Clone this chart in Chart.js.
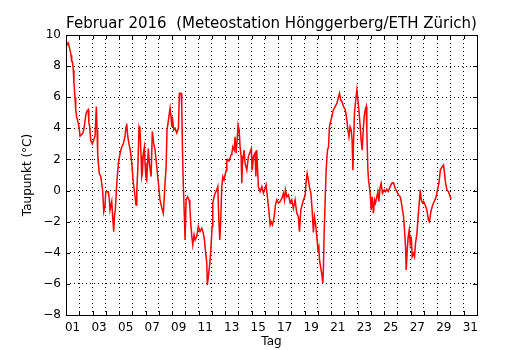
<!DOCTYPE html>
<html>
<head>
<meta charset="utf-8">
<script src="https://cdn.jsdelivr.net/npm/chart.js@4.4.0/dist/chart.umd.min.js"></script>
<style>
body { margin: 0; background: #fff; }
</style>
</head>
<body>
<canvas id="taupunktChart" width="530" height="350"></canvas>
<script>
var titel = 'Februar 2016  (Meteostation H\u00f6nggerberg/ETH Z\u00fcrich)';

// Zeit in Tagen (1.0 = 1. Februar 00:00)
var tage = [
    1.05, 1.10, 1.17, 1.30, 1.38, 1.43, 1.49, 1.55, 1.60, 1.68, 1.73, 1.81, 1.88, 1.98,
    2.06, 2.18, 2.28, 2.38, 2.49, 2.58, 2.68, 2.72, 2.79, 2.86, 2.98,
    3.09, 3.19, 3.29, 3.34, 3.39, 3.44, 3.51, 3.62, 3.69, 3.77, 3.85, 3.94,
    4.00, 4.19, 4.27, 4.32, 4.45, 4.52, 4.60, 4.65, 4.72, 4.80, 4.87, 4.95,
    5.08, 5.20, 5.32, 5.45, 5.53, 5.58, 5.66, 5.75, 5.85, 5.96,
    6.08, 6.21, 6.28, 6.34, 6.41, 6.51, 6.58, 6.66, 6.71, 6.76, 6.83, 6.91, 6.96,
    7.02, 7.09, 7.17, 7.21, 7.29, 7.42, 7.51, 7.62, 7.72, 7.85, 7.97,
    8.09, 8.22, 8.34, 8.40, 8.47, 8.55, 8.62, 8.72, 8.85, 8.92, 8.98,
    9.05, 9.13, 9.23, 9.35, 9.48, 9.55, 9.68, 9.73, 9.79, 9.85, 9.93, 9.98,
    10.06, 10.17, 10.28, 10.34, 10.41, 10.49, 10.56, 10.66, 10.74, 10.86, 10.98,
    11.11, 11.24, 11.36, 11.44, 11.51, 11.62, 11.66, 11.77, 11.87, 11.94,
    12.02, 12.07, 12.17, 12.25, 12.37, 12.45, 12.52, 12.60, 12.68, 12.75, 12.83, 12.92,
    13.00, 13.08, 13.13, 13.20, 13.30, 13.38, 13.45, 13.51, 13.58, 13.68, 13.75, 13.83, 13.91, 13.98,
    14.06, 14.13, 14.21, 14.26, 14.31, 14.43, 14.51, 14.64, 14.76, 14.89, 14.98,
    15.04, 15.14, 15.26, 15.32, 15.38, 15.47, 15.51, 15.64, 15.77, 15.89,
    16.02, 16.09, 16.19, 16.27, 16.34, 16.40, 16.47, 16.57, 16.65, 16.72, 16.80, 16.90,
    17.02, 17.15, 17.28, 17.40, 17.48, 17.55, 17.66, 17.78, 17.91,
    18.03, 18.15, 18.28, 18.41, 18.53, 18.61, 18.71, 18.81, 18.91,
    19.04, 19.11, 19.19, 19.26, 19.36, 19.47, 19.57, 19.66, 19.74, 19.82, 19.92,
    20.00, 20.07, 20.12, 20.22, 20.30, 20.37, 20.42, 20.47, 20.55, 20.62, 20.72, 20.80, 20.87, 20.98,
    21.05, 21.17, 21.30, 21.43, 21.55, 21.63, 21.73, 21.83, 21.93,
    22.06, 22.19, 22.26, 22.34, 22.43, 22.51, 22.58, 22.64, 22.68, 22.76, 22.83, 22.94,
    23.02, 23.09, 23.19, 23.26, 23.34, 23.42, 23.49, 23.57, 23.64, 23.69, 23.77, 23.82, 23.94,
    24.02, 24.09, 24.19, 24.27, 24.34, 24.45, 24.52, 24.60, 24.70, 24.77, 24.87,
    25.00, 25.10, 25.20, 25.30, 25.45, 25.58, 25.70, 25.83, 25.96,
    26.08, 26.21, 26.28, 26.38, 26.46, 26.53, 26.61, 26.66, 26.74, 26.81, 26.89, 26.96,
    27.04, 27.11, 27.21, 27.29, 27.36, 27.47, 27.54, 27.62, 27.72, 27.79, 27.89, 27.97,
    28.09, 28.22, 28.34, 28.42, 28.52, 28.62, 28.72, 28.83, 28.92,
    29.02, 29.13, 29.23, 29.35, 29.48, 29.55, 29.63, 29.73, 29.85, 29.98, 30.06
];

// Taupunkt in Grad C
var taupunkt = [
    9.3, 9.47, 9.5, 9.04, 8.7, 8.3, 8.3, 7.75, 6.9, 6.0, 5.2, 4.7, 4.5, 4.1,
    3.5, 3.6, 3.7, 4.1, 4.85, 5.1, 5.2, 4.4, 4.1, 3.25, 3.0,
    3.25, 3.5, 5.4, 3.9, 2.4, 1.75, 1.1, 0.9, 0.47, -0.07, -1.36, -1.03,
    -0.07, -0.07, -0.6, -1.25, -0.7, -1.68, -2.64, -1.68, -1.25, 0.04, 0.9, 1.75,
    2.4, 2.8, 3.0, 3.46, 4.1, 4.3, 3.46, 3.0, 2.6, 1.75,
    0.47, -0.4, -0.93, 0.04, 1.3, 4.1, 3.9, 2.2, 0.9, 1.1, 2.4, 2.8, 1.8,
    0.9, 0.68, 2.0, 2.7, 1.75, 0.9, 3.8, 3.0, 2.6, 1.5, 0.47,
    -0.6, -1.1, -1.46, -0.6, 0.47, 1.54, 3.9, 4.5, 5.3, 4.75, 4.1,
    4.5, 3.9, 4.0, 3.7, 4.0, 6.25, 6.25, 5.4, 2.4, 0.25, -1.68, -3.17,
    -0.6, -0.4, -0.6, -1.0, -2.1, -2.96, -3.5, -2.85, -3.17, -2.96, -2.3,
    -2.64, -2.42, -2.75, -3.17, -3.8, -4.67, -6.07, -5.3, -4.46, -3.6,
    -2.3, -0.8, -0.4, -0.17, 0.04, 0.25, -1.68, -3.17, -1.68, 0.25, 0.9, 0.68,
    1.0, 1.3, 1.9, 2.0, 1.9, 2.1, 2.3, 2.4, 2.8, 2.6, 3.46, 2.4, 3.25, 4.2,
    3.9, 2.8, 2.2, 0.47, 1.75, 2.6, 1.75, 1.3, 2.2, 2.5, 2.7,
    1.3, 2.2, 2.4, 0.9, 2.6, 1.0, 0.25, -0.07, 0.25, -0.17,
    0.15, 0.36, -0.4, -1.03, -1.68, -2.2, -2.0, -2.2, -1.9, -1.57, -0.93, -0.6,
    -0.8, -0.7, -0.5, -0.17, -0.6, 0.04, -0.4, -0.28, -0.8,
    -0.6, -1.14, -0.6, -1.46, -1.68, -2.64, -1.25, -0.93, -0.6,
    -0.3, 0.57, 1.1, 0.79, 0.25, -0.17, -1.3, -2.7, -1.68, -2.1, -2.96,
    -3.8, -3.6, -4.46, -5.0, -5.42, -5.96, -4.9, -2.75, -0.6, 1.3, 2.6, 2.8, 4.1, 4.5,
    4.75, 5.2, 5.4, 5.6, 6.0, 6.25, 5.8, 5.7, 5.4,
    5.2, 4.5, 3.9, 3.46, 4.1, 3.9, 3.25, 1.3, 2.8, 5.0, 5.6, 6.47,
    5.8, 5.2, 4.1, 3.25, 2.6, 3.9, 4.75, 5.2, 5.4, 3.9, 1.3, 0.68, -0.17,
    -1.25, -0.4, -1.46, -0.6, -0.8, -0.4, -0.07, -0.7, 0.25, 0.47, -0.17,
    0.04, -0.07, 0.08, -0.07, 0.25, 0.47, 0.5, 0.15, -0.07,
    -0.28, -0.4, -0.7, -1.25, -1.68, -2.53, -3.6, -5.1, -3.8, -2.96, -2.53, -3.4,
    -2.96, -4.25, -4.03, -4.25, -3.4, -2.75, -1.9, -1.03, 0.04, -0.6, -0.8, -0.7,
    -0.93, -1.25, -1.9, -2.0, -1.36, -1.03, -0.8, -0.6, -0.4,
    0.04, 0.47, 1.3, 1.5, 1.64, 1.1, 0.47, 0.04, -0.07, -0.4, -0.56
];

// Achsen
var tagGitter = [1, 2, 3, 4, 5, 6, 7, 8, 9, 10, 11, 12, 13, 14, 15, 16,
                 17, 18, 19, 20, 21, 22, 23, 24, 25, 26, 27, 28, 29, 30, 31, 32];
var tagBeschriftet = [1, 3, 5, 7, 9, 11, 13, 15, 17, 19, 21, 23, 25, 27, 29, 31];
var yTicks = [-8, -6, -4, -2, 0, 2, 4, 6, 8, 10];

var punkte = tage.map(function(t, i) {
    return { x: t, y: taupunkt[i] };
});

var schrift = '"DejaVu Sans", sans-serif';

// Rahmen, Tick-Striche nach innen und Titel wie bei matplotlib
var rahmen = {
    id: 'rahmen',
    afterDatasetsDraw: function(chart) {
        var c = chart.ctx;
        var a = chart.chartArea;
        var xs = chart.scales.x;
        var ys = chart.scales.y;
        c.save();
        c.strokeStyle = '#000';
        c.lineWidth = 1;
        c.beginPath();
        xs.ticks.forEach(function(t) {
            var px = Math.round(xs.getPixelForValue(t.value)) + 0.5;
            c.moveTo(px, a.bottom);
            c.lineTo(px, a.bottom - 4);
            c.moveTo(px, a.top);
            c.lineTo(px, a.top + 4);
        });
        ys.ticks.forEach(function(t) {
            var py = Math.round(ys.getPixelForValue(t.value)) + 0.5;
            c.moveTo(a.left, py);
            c.lineTo(a.left + 4, py);
            c.moveTo(a.right, py);
            c.lineTo(a.right - 4, py);
        });
        c.stroke();
        c.strokeRect(Math.round(a.left) + 0.5, Math.round(a.top) + 0.5,
                     Math.round(a.right - a.left), Math.round(a.bottom - a.top));
        c.fillStyle = '#000';
        c.font = '15px ' + schrift;
        c.textAlign = 'center';
        c.textBaseline = 'alphabetic';
        c.fillText(titel, (a.left + a.right) / 2, 28);
        c.restore();
    }
};

var ctx = document.getElementById('taupunktChart').getContext('2d');

var taupunktChart = new Chart(ctx, {
    type: 'line',
    data: {
        datasets: [{
            data: punkte,
            borderColor: '#ff0000',
            borderWidth: 1.5,
            pointRadius: 0,
            fill: false,
            tension: 0
        }]
    },
    options: {
        responsive: false,
        animation: false,
        devicePixelRatio: 1,
        layout: {
            padding: { top: 35, right: 53, bottom: 0, left: 0 }
        },
        plugins: {
            legend: { display: false },
            tooltip: { enabled: false },
            title: { display: false }
        },
        scales: {
            x: {
                type: 'linear',
                min: 1,
                max: 32,
                afterBuildTicks: function(scale) {
                    scale.ticks = tagGitter.map(function(v) { return { value: v }; });
                },
                afterFit: function(scale) {
                    scale.height = 35;
                },
                ticks: {
                    autoSkip: false,
                    maxRotation: 0,
                    padding: 6,
                    labelOffset: 6.6,
                    color: '#000',
                    font: { family: schrift, size: 12 },
                    callback: function(v) {
                        if (tagBeschriftet.indexOf(v) < 0) return '';
                        return (v < 10 ? '0' : '') + v;
                    }
                },
                grid: {
                    drawTicks: false,
                    color: '#000',
                    lineWidth: 1
                },
                border: { display: false, dash: [1, 3] },
                title: {
                    display: true,
                    text: 'Tag',
                    color: '#000',
                    font: { family: schrift, size: 12 },
                    padding: { top: 0, bottom: 1 }
                }
            },
            y: {
                min: -8,
                max: 10,
                afterBuildTicks: function(scale) {
                    scale.ticks = yTicks.map(function(v) { return { value: v }; });
                },
                afterFit: function(scale) {
                    scale.width = 66;
                },
                ticks: {
                    padding: 5,
                    color: '#000',
                    font: { family: schrift, size: 12 },
                    callback: function(v) {
                        return v < 0 ? '\u2212' + Math.abs(v) : String(v);
                    }
                },
                grid: {
                    drawTicks: false,
                    color: '#000',
                    lineWidth: 1
                },
                border: { display: false, dash: [1, 3] },
                title: {
                    display: true,
                    text: 'Taupunkt (\u00b0C)',
                    color: '#000',
                    font: { family: schrift, size: 12 },
                    padding: { top: 21, bottom: 0 }
                }
            }
        }
    },
    plugins: [rahmen]
});
</script>
</body>
</html>
